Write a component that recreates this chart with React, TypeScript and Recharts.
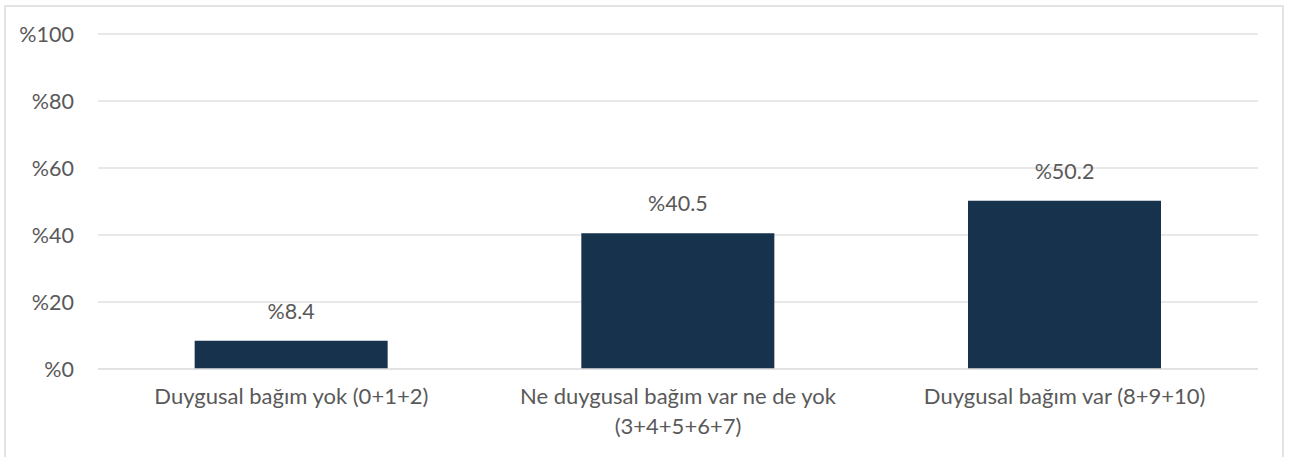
import React from "react";
import { BarChart, Bar, XAxis, YAxis, CartesianGrid, LabelList } from "recharts";

const categories = [
  "Duygusal bağım yok (0+1+2)",
  "Ne duygusal bağım var ne de yok (3+4+5+6+7)",
  "Duygusal bağım var (8+9+10)",
];
const values = [8.4, 40.5, 50.2];
const yTicks = [0, 20, 40, 60, 80, 100];

const data = categories.map((name, i) => ({ name, value: values[i] }));

const FONT = "Lato, 'Open Sans', sans-serif";
const FS = 21.5;
const TEXT = "#595959";

function XTick({ x, y, payload }: any) {
  // wrap long labels like the original does
  const words = String(payload.value).split(" ");
  const lines: string[] = [];
  let cur = "";
  const maxChars = 32;
  for (const w of words) {
    const next = cur ? cur + " " + w : w;
    if (next.length > maxChars && cur) {
      lines.push(cur);
      cur = w;
    } else cur = next;
  }
  if (cur) lines.push(cur);
  return (
    <text x={x} y={y} textAnchor="middle" fill={TEXT} fontSize={22} fontFamily={FONT}>
      {lines.map((l, i) => (
        <tspan key={i} x={x} dy={i === 0 ? 33 : 30}>
          {l}
        </tspan>
      ))}
    </text>
  );
}

export default function App() {
  return (
    <div style={{ position: "absolute", left: 0, top: 0, width: 1290, height: 457, overflow: "hidden", background: "#fff" }}>
      <div
        style={{
          position: "absolute",
          left: 4,
          top: 5,
          width: 1280,
          height: 470,
          border: "2px solid #e3e3e3",
          boxSizing: "border-box",
        }}
      />
      <div style={{ position: "absolute", left: 0, top: 0 }}>
        <BarChart
          width={1290}
          height={457}
          data={data}
          margin={{ top: 34, right: 32, left: 18, bottom: 28 }}
          barCategoryGap="25%"
        >
          <CartesianGrid vertical={false} stroke="#e0e0e0" strokeWidth={1.5} />
          <XAxis
            dataKey="name"
            axisLine={{ stroke: "#e0e0e0", strokeWidth: 1.5 }}
            tickLine={false}
            tickSize={0}
            height={60}
            interval={0}
            tick={<XTick />}
          />
          <YAxis
            width={80}
            domain={[0, 100]}
            ticks={yTicks}
            axisLine={false}
            tickLine={false}
            tickSize={0}
            tickMargin={24}
            tickFormatter={(v: number) => `%${v}`}
            tick={{ fill: TEXT, fontSize: FS, fontFamily: FONT }}
          />
          <Bar dataKey="value" fill="#17324d" isAnimationActive={false}>
            <LabelList
              dataKey="value"
              position="top"
              offset={22}
              formatter={(v: any) => `%${v}`}
              fill={TEXT}
              fontSize={FS}
              fontFamily={FONT}
            />
          </Bar>
        </BarChart>
      </div>
    </div>
  );
}
